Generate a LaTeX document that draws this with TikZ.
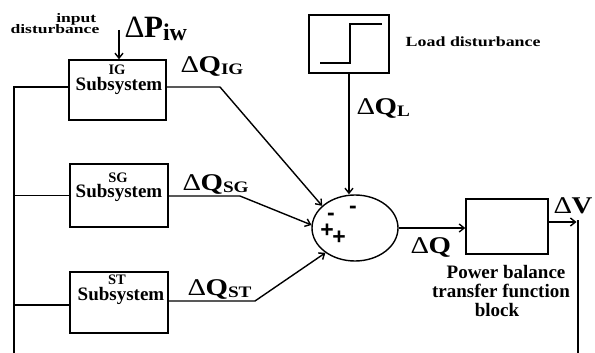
\documentclass[tikz,border=0pt]{standalone}
\usepackage{fontspec}
\setmainfont{Liberation Serif}
\newfontfamily\signfont{Liberation Sans}
\usetikzlibrary{shapes.geometric,arrows.meta}
\newcommand{\mydelta}{{\mdseries Δ}}
\newcommand{\mydq}[1]{\scalebox{1.2}[1]{\fontsize{24}{24}\selectfont\bfseries \mydelta\kern-0.5pt Q\raisebox{-2pt}{\fontsize{16}{16}\selectfont #1}}}
\begin{document}
\begin{tikzpicture}[x=1pt,y=-1pt,line width=1.4pt,
  >={Straight Barb[length=5pt,width=8pt]},
  blk/.style={draw,rectangle,inner sep=0pt},
  lbl/.style={inner sep=0pt,anchor=base west},
  hd/.style={inner sep=0pt,anchor=base,font=\fontsize{14.5}{14.5}\selectfont\bfseries},
  subsys/.style={inner sep=0pt,anchor=base,font=\fontsize{19}{19}\selectfont\bfseries},
  pwt/.style={inner sep=0pt,anchor=base,font=\fontsize{19}{19}\selectfont\bfseries},
  sgn/.style={inner sep=0pt,font=\fontsize{23}{23}\selectfont\signfont\bfseries}]
\useasboundingbox (0,0) rectangle (595,353);

% blocks
\node[blk,minimum width=97pt,minimum height=60pt] (ig) at (117.5,90) {};
\node[blk,minimum width=98pt,minimum height=63pt] (sg) at (119,195.5) {};
\node[blk,minimum width=98pt,minimum height=61pt] (st) at (119,302.5) {};
\node[blk,minimum width=80pt,minimum height=58pt] (load) at (349,44) {};
\node[draw,ellipse,minimum width=86pt,minimum height=66pt,inner sep=0pt] (sum) at (355,228) {};
\node[blk,minimum width=82pt,minimum height=55pt] (pw) at (507,226.5) {};

% block texts
\node[hd] (igA) at (117,74.5) {IG};
\node[subsys] (igB) at (119,91) {Subsystem};
\node[hd] (sgA) at (118,182) {SG};
\node[subsys] (sgB) at (119,197) {Subsystem};
\node[hd] (stA) at (117,284) {ST};
\node[subsys] (stB) at (121,300) {Subsystem};

% step symbol
\draw ([xshift=-29pt,yshift=-19pt]load.center) -- ([xshift=1pt,yshift=-19pt]load.center)
  -- ([xshift=1pt,yshift=20pt]load.center) -- ([xshift=33pt,yshift=20pt]load.center);

% coordinates
\coordinate (busT) at (14,87);
\coordinate (busB) at (14,353);
\coordinate (igK) at (220,87);
\coordinate (sgK) at (240,196);
\coordinate (stK) at (255,301);
\coordinate (inT) at (119,30);
\coordinate (outR) at (578,222);
\coordinate (outB) at (578,353);

% connectors
\draw (ig.west |- busT) -- (busT) -- (busB);
\draw (busT |- sg.west) -- (sg.west);
\draw (busT |- 0,305) -- (st.west |- 0,305);
\draw[->] (inT) -- (inT |- ig.north);
\draw[->] (ig.east |- igK) -- (igK) -- (sum.146);
\draw[->] (sg.east |- sgK) -- (sgK) -- (sum.176);
\draw[->] (st.east |- stK) -- (stK) -- (sum.220);
\draw[->] (load.south) -- (load.south |- sum.north);
\draw[->] (sum.east) -- (sum.east -| pw.west);
\draw[->,shorten >=1.5pt] (pw.east |- outR) -- (outR);
\draw ([yshift=2pt]outR) -- (outB);

% signs
\node[sgn] (m1) at (331,217) {-};
\node[sgn] (m2) at (353,210) {-};
\node[sgn] (p1) at (327,231) {+};
\node[sgn] (p2) at (339,238) {+};

% labels
\node[lbl,font=\fontsize{13}{13}\selectfont\bfseries,anchor=base east] (inA) at (97,23) {\scalebox{1.35}[1]{input}};
\node[lbl,font=\fontsize{13}{13}\selectfont\bfseries,anchor=base east] (inB) at (100,34) {\scalebox{1.35}[1]{disturbance}};
\node[lbl] (dp) at (124,38) {\fontsize{31}{31}\selectfont\bfseries \mydelta\kern-0.5pt P\raisebox{-3pt}{\fontsize{24}{24}\selectfont iw}};
\node[lbl] (dqig) at (180,73) {\mydq{IG}};
\node[lbl] (dqsg) at (182,190) {\mydq{SG}};
\node[lbl] (dqst) at (187,295) {\mydq{ST}};
\node[lbl] (dql) at (356,114) {\mydq{L}};
\node[lbl] (dq) at (410,253) {\mydq{}};
\node[lbl] (dv) at (553,213) {\scalebox{1.2}[1]{\fontsize{24}{24}\selectfont\bfseries \mydelta\kern-0.5pt V}};
\node[lbl] (ld) at (405,47) {\scalebox{1.28}[1]{\fontsize{14}{14}\selectfont\bfseries Load disturbance}};
\node[pwt] (pA) at (506,278) {Power balance};
\node[pwt] (pB) at (501,297) {transfer function};
\node[pwt] (pC) at (497,316) {block};
\end{tikzpicture}
\end{document}
